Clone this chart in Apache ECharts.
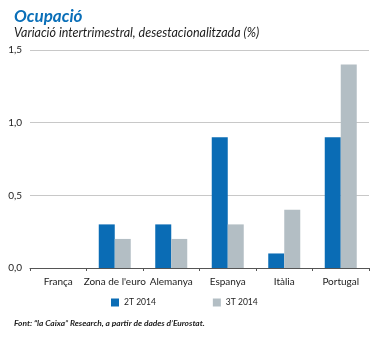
<!DOCTYPE html>
<html><head><meta charset="utf-8">
<script src="https://cdn.jsdelivr.net/npm/echarts@6/dist/echarts.min.js"></script>
<style>html,body{margin:0;padding:0;background:#fff}#c{width:381px;height:338px}</style>
</head><body><div id="c"></div>
<script>
const categories = ["França", "Zona de l'euro", "Alemanya", "Espanya", "Itàlia", "Portugal"];
const series2T = [0, 0.3, 0.3, 0.9, 0.1, 0.9];
const series3T = [0, 0.2, 0.2, 0.3, 0.4, 1.4];
const seriesNames = ["2T 2014", "3T 2014"];
const yTicks = { min: 0, max: 1.5, interval: 0.5 };

const chart = echarts.init(document.getElementById('c'), null, { renderer: 'canvas' });
const F = 'Lato, "Open Sans", sans-serif';
chart.setOption({
  animation: false,
  textStyle: { fontFamily: F },
  title: [
    { text: 'Ocupació', left: 9, top: 3, textStyle: { fontFamily: F, fontSize: 17, fontWeight: 'bold', fontStyle: 'italic', color: '#0a6fb8' } },
    { text: 'Variació intertrimestral, desestacionalitzada (%)', left: 9, top: 21, textStyle: { fontFamily: F, fontSize: 12.5, fontWeight: 'normal', fontStyle: 'italic', color: '#222' } },
    { text: '{b|Font:}{i| “la Caixa” Research, a partir de dades d’Eurostat.}', left: 9, top: 314,
      textStyle: { rich: { b: { fontFamily: F, fontSize: 8.4, fontWeight: 'bold', fontStyle: 'italic', color: '#222' }, i: { fontFamily: F, fontSize: 8.4, fontStyle: 'italic', color: '#222' } } } }
  ],
  legend: {
    top: 293, left: 106, itemGap: 57, itemWidth: 8, itemHeight: 8, itemTextGap: 5, icon: 'rect',
    textStyle: { fontFamily: F, fontSize: 8.5, color: '#222' },
    data: seriesNames
  },
  grid: { left: 30, right: 12, top: 50, bottom: 70, containLabel: false },
  xAxis: {
    type: 'category', data: categories,
    axisLine: { lineStyle: { color: '#555', width: 1 } },
    axisTick: { show: true, length: 3, lineStyle: { color: '#555' } },
    axisLabel: { fontFamily: F, fontSize: 10, color: '#222', margin: 9, interval: 0 }
  },
  yAxis: {
    type: 'value', min: yTicks.min, max: yTicks.max, interval: yTicks.interval,
    axisLine: { show: false }, axisTick: { show: false },
    splitLine: { lineStyle: { color: '#c8c8c8', width: 1 } },
    axisLabel: { fontFamily: F, fontSize: 10, color: '#222', margin: 8, align: 'right',
      formatter: v => v.toFixed(1).replace('.', ',') }
  },
  series: [
    { name: seriesNames[0], type: 'bar', data: series2T, barWidth: 16, barGap: '0%', itemStyle: { color: '#0a6cb5' } },
    { name: seriesNames[1], type: 'bar', data: series3T, barWidth: 16, itemStyle: { color: '#b3bec4' } }
  ]
});
</script></body></html>
